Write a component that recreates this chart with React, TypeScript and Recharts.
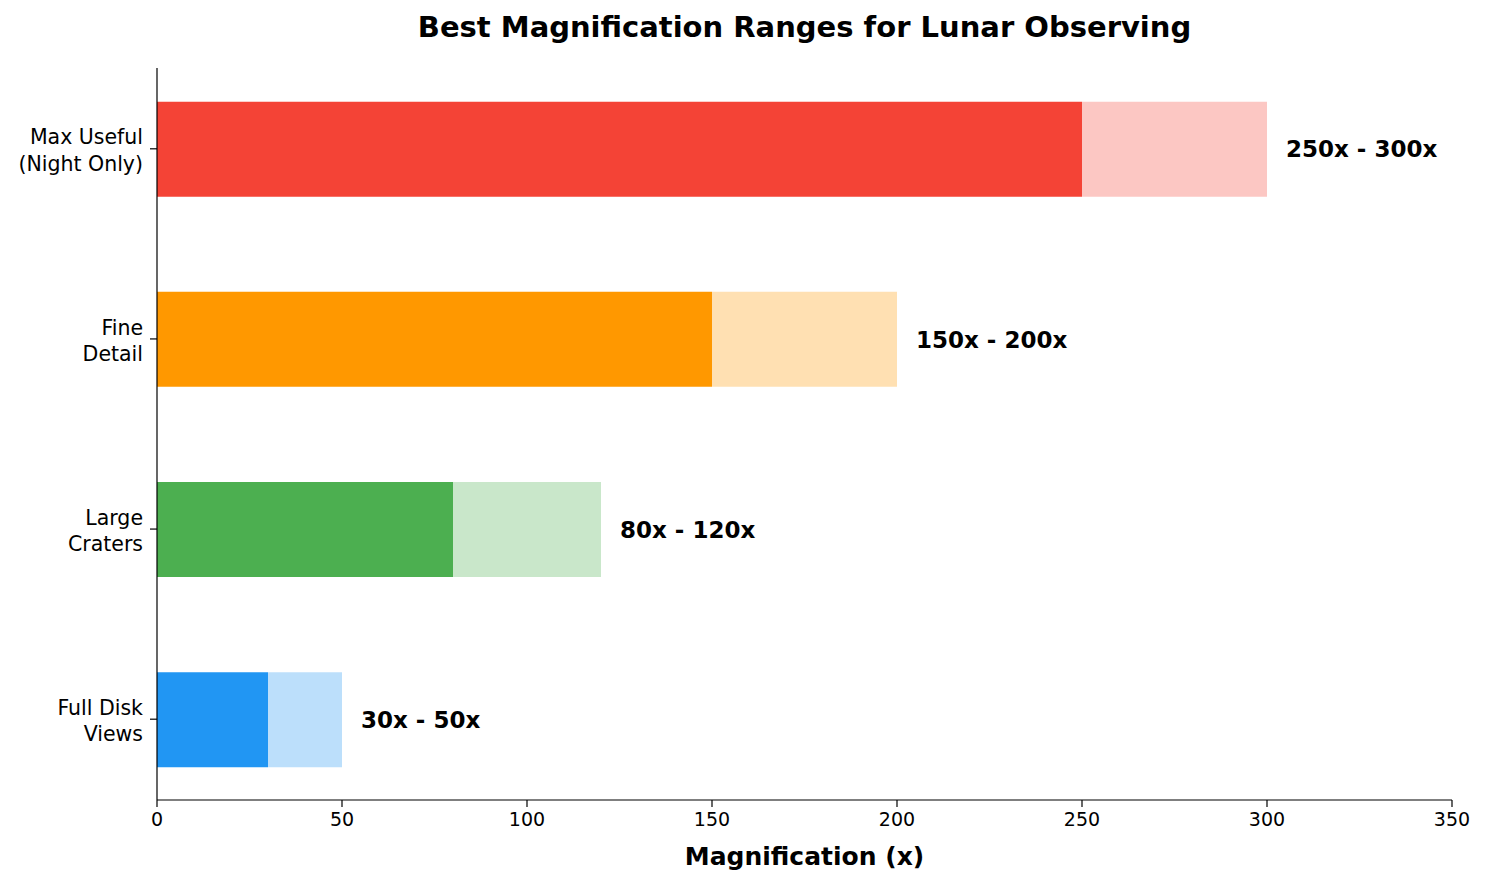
import React from "react";
import { BarChart, Bar, XAxis, YAxis, Cell, LabelList } from "recharts";

// categories bottom -> top
const categoryLines = [
  ["Full Disk", "Views"],
  ["Large", "Craters"],
  ["Fine", "Detail"],
  ["Max Useful", "(Night Only)"],
];
const positions = [0, 1, 2, 3];
const minMag = [30, 80, 150, 250];
const maxMag = [50, 120, 200, 300];
const rangeLabels = ["30x - 50x", "80x - 120x", "150x - 200x", "250x - 300x"];
const xTicks = [0, 50, 100, 150, 200, 250, 300, 350];

const baseColors = ["#2196F3", "#4CAF50", "#FF9800", "#F44336"];
const lightColors = ["#BCDFFB", "#C9E7CA", "#FFE0B2", "#FCC7C3"];

const FONT = "DejaVu Sans";

const rows = positions.map((pos, i) => ({
  pos,
  min: minMag[i],
  span: maxMag[i] - minMag[i],
  label: rangeLabels[i],
}));

const YTick = (props: any) => {
  const { x, y, payload } = props;
  const lines = categoryLines[payload.value] || [];
  return (
    <text
      x={x}
      y={y}
      textAnchor="end"
      fontFamily={FONT}
      fontSize={20.5}
      fill="#000"
    >
      {lines.map((ln, k) => (
        <tspan key={k} x={x} y={y + 1.5 + (k - (lines.length - 1) / 2) * 26.5} dy="0.36em">
          {ln}
        </tspan>
      ))}
    </text>
  );
};

export default function App() {
  return (
    <div style={{ position: "absolute", left: 0, top: 0, width: 1486, height: 884, background: "#fff" }}>
      <div
        style={{
          position: "absolute",
          left: 157,
          width: 1295,
          top: 10,
          lineHeight: "34px",
          textAlign: "center",
          fontFamily: FONT,
          fontWeight: "bold",
          fontSize: 29,
          color: "#000",
        }}
      >
        Best Magnification Ranges for Lunar Observing
      </div>
      <BarChart
        width={1486}
        height={884}
        data={rows}
        layout="vertical"
        margin={{ top: 68, right: 34, bottom: 0, left: 0 }}
        barSize={95}
      >
        <XAxis
          type="number"
          domain={[0, 350]}
          ticks={xTicks}
          height={84}
          allowDataOverflow
          axisLine={{ stroke: "#000", strokeWidth: 1.2 }}
          tickLine={{ stroke: "#000", strokeWidth: 1.2 }}
          tickSize={7}
          tickMargin={6}
          tick={{ fill: "#000", fontFamily: FONT, fontSize: 19 }}
          label={{
            value: "Magnification (x)",
            position: "insideBottom",
            offset: 19,
            fill: "#000",
            fontFamily: FONT,
            fontSize: 25,
            fontWeight: "bold",
          }}
        />
        <YAxis
          type="number"
          dataKey="pos"
          domain={[-0.425, 3.425]}
          ticks={positions}
          width={157}
          reversed
          allowDataOverflow
          axisLine={{ stroke: "#000", strokeWidth: 1.2 }}
          tickLine={{ stroke: "#000", strokeWidth: 1.2 }}
          tickSize={7}
          tickMargin={7}
          tick={<YTick />}
        />
        <Bar dataKey="min" stackId="a" isAnimationActive={false}>
          {rows.map((r, i) => (
            <Cell key={i} fill={baseColors[i]} />
          ))}
        </Bar>
        <Bar dataKey="span" stackId="a" isAnimationActive={false}>
          {rows.map((r, i) => (
            <Cell key={i} fill={lightColors[i]} />
          ))}
          <LabelList
            dataKey="label"
            position="right"
            offset={19}
            fill="#000"
            fontFamily={FONT}
            fontSize={23}
            fontWeight="bold"
          />
        </Bar>
      </BarChart>
    </div>
  );
}
